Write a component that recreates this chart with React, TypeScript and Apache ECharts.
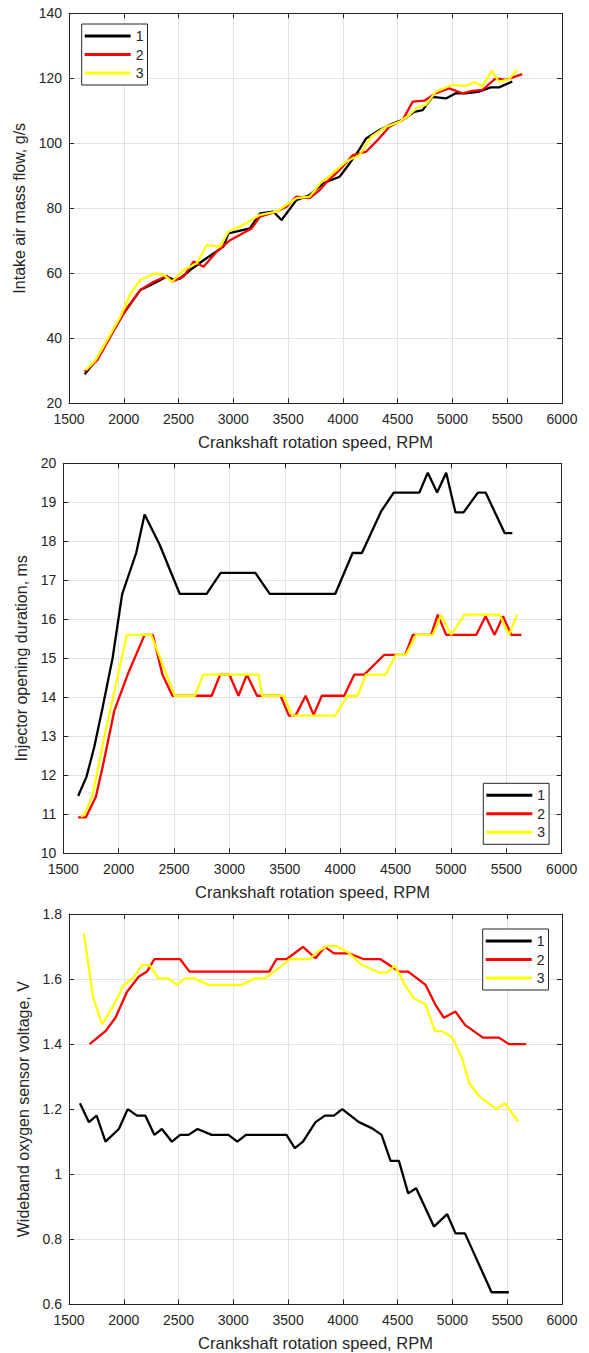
import React, { useEffect, useRef } from "react";
import * as echarts from "echarts";

const FONT = '"Liberation Sans", Arial, Helvetica, sans-serif';
const TXT = "#262626";
const GRIDC = "#e2e2e2";

// X axis (all panels)
const rpmTicks = [1500, 6000, 500];
const xTitle = "Crankshaft rotation speed, RPM";
const seriesNames = ["1", "2", "3"];
const seriesColors = ["#000000", "#ff0000", "#ffff00"];

// Panel 1: intake air mass flow, g/s
const flowRpm1 = [1643, 1758, 1909, 2000, 2152, 2273, 2394, 2455, 2515, 2606, 2728, 2909, 2955, 3152, 3243, 3364, 3440, 3576, 3697, 3819, 3970, 4061, 4137, 4212, 4334, 4455, 4546, 4652, 4728, 4818, 4940, 5031, 5121, 5243, 5349, 5425, 5546];
const flowVal1 = [28.9, 33.8, 42.6, 47.7, 54.9, 56.9, 59.0, 58.0, 58.4, 61.0, 64.0, 68.2, 72.3, 73.8, 78.4, 79.0, 76.4, 82.5, 84.1, 87.7, 89.7, 93.8, 97.4, 101.5, 104.1, 106.1, 107.2, 109.7, 110.2, 114.3, 113.8, 115.4, 115.4, 115.9, 117.2, 117.2, 119.0];
const flowRpm2 = [1643, 1758, 1894, 2016, 2152, 2273, 2394, 2440, 2546, 2637, 2728, 2849, 2970, 3167, 3243, 3394, 3485, 3576, 3697, 3788, 3850, 3970, 4091, 4212, 4303, 4425, 4546, 4637, 4743, 4849, 4970, 5091, 5182, 5273, 5394, 5485, 5637];
const flowVal2 = [29.7, 33.3, 41.5, 48.7, 54.9, 57.4, 59.2, 57.4, 59.0, 63.6, 62.0, 66.7, 70.2, 73.8, 77.4, 79.0, 80.5, 83.6, 83.1, 85.6, 88.0, 91.8, 96.4, 97.4, 100.5, 105.1, 107.2, 112.8, 113.1, 115.4, 116.9, 115.4, 116.1, 116.4, 120.0, 119.5, 121.3];
const flowRpm3 = [1652, 1743, 1849, 1970, 2061, 2152, 2288, 2364, 2440, 2546, 2667, 2758, 2879, 2955, 3091, 3243, 3394, 3576, 3697, 3788, 3909, 4031, 4152, 4258, 4394, 4516, 4606, 4682, 4758, 4849, 5000, 5121, 5197, 5273, 5358, 5425, 5515, 5591];
const flowVal3 = [30.2, 33.3, 39.5, 46.7, 53.8, 58.0, 60.0, 59.5, 57.4, 61.0, 63.1, 68.7, 68.2, 72.8, 74.9, 78.0, 79.0, 83.1, 83.6, 87.5, 90.8, 94.4, 96.4, 102.0, 105.1, 106.6, 108.7, 111.1, 111.8, 115.9, 118.0, 117.6, 118.8, 117.6, 122.3, 119.0, 119.7, 122.6];

// Panel 2: injector opening duration, ms
const injRpm1 = [1634, 1709, 1779, 1855, 1946, 2031, 2158, 2234, 2370, 2552, 2794, 2921, 3234, 3364, 3955, 4112, 4196, 4368, 4483, 4715, 4791, 4875, 4957, 5041, 5114, 5243, 5313, 5485, 5554];
const injVal1 = [11.47, 11.96, 12.72, 13.74, 15.02, 16.64, 17.70, 18.69, 17.91, 16.65, 16.65, 17.19, 17.19, 16.65, 16.65, 17.70, 17.70, 18.76, 19.25, 19.25, 19.76, 19.25, 19.76, 18.74, 18.74, 19.25, 19.25, 18.21, 18.21];
const injRpm2 = [1634, 1703, 1794, 1855, 1961, 2082, 2234, 2309, 2394, 2485, 2840, 2916, 3000, 3082, 3158, 3249, 3461, 3537, 3597, 3688, 3760, 3834, 4036, 4127, 4217, 4398, 4504, 4588, 4655, 4821, 4881, 4957, 5228, 5313, 5394, 5470, 5545, 5636];
const injVal2 = [10.92, 10.92, 11.45, 12.21, 13.66, 14.59, 15.60, 15.60, 14.59, 14.04, 14.04, 14.58, 14.58, 14.04, 14.58, 14.04, 14.04, 13.53, 13.53, 14.04, 13.55, 14.04, 14.04, 14.58, 14.58, 15.09, 15.09, 15.09, 15.60, 15.60, 16.12, 15.60, 15.60, 16.08, 15.60, 16.08, 15.60, 15.60];
const injRpm3 = [1658, 1688, 1764, 1870, 1976, 2073, 2294, 2385, 2506, 2688, 2764, 3264, 3294, 3491, 3567, 3955, 4066, 4157, 4232, 4407, 4504, 4594, 4685, 4836, 4911, 5002, 5123, 5440, 5524, 5597];
const injVal3 = [10.94, 10.98, 11.49, 12.98, 14.34, 15.60, 15.60, 14.93, 14.04, 14.04, 14.58, 14.58, 14.04, 14.04, 13.53, 13.53, 14.04, 14.04, 14.58, 14.58, 15.09, 15.09, 15.60, 15.60, 16.11, 15.60, 16.12, 16.12, 15.60, 16.12];

// Panel 3: wideband oxygen sensor voltage, V
const o2Rpm1 = [1600, 1682, 1752, 1833, 1955, 2036, 2121, 2197, 2279, 2348, 2439, 2515, 2591, 2673, 2803, 2955, 3036, 3115, 3485, 3561, 3636, 3750, 3836, 3918, 3994, 4070, 4146, 4268, 4353, 4435, 4511, 4596, 4669, 4831, 4952, 5028, 5114, 5357, 5515];
const o2Val1 = [1.218, 1.160, 1.180, 1.100, 1.139, 1.200, 1.180, 1.180, 1.121, 1.139, 1.100, 1.121, 1.121, 1.139, 1.121, 1.121, 1.100, 1.121, 1.121, 1.080, 1.100, 1.160, 1.180, 1.180, 1.200, 1.180, 1.160, 1.141, 1.121, 1.041, 1.041, 0.941, 0.957, 0.839, 0.877, 0.818, 0.818, 0.637, 0.637];
const o2Rpm2 = [1688, 1833, 1924, 2030, 2136, 2212, 2279, 2515, 2600, 3327, 3394, 3485, 3636, 3750, 3836, 3918, 4055, 4192, 4344, 4511, 4596, 4755, 4846, 4922, 5028, 5114, 5278, 5424, 5515, 5673];
const o2Val2 = [1.400, 1.440, 1.481, 1.561, 1.607, 1.623, 1.661, 1.661, 1.623, 1.623, 1.661, 1.661, 1.699, 1.664, 1.699, 1.679, 1.679, 1.661, 1.661, 1.623, 1.623, 1.582, 1.520, 1.481, 1.500, 1.459, 1.420, 1.420, 1.400, 1.400];
const o2Rpm3 = [1636, 1721, 1803, 1909, 2000, 2076, 2167, 2236, 2318, 2409, 2485, 2561, 2642, 2773, 3076, 3197, 3288, 3394, 3515, 3697, 3766, 3857, 3933, 4040, 4176, 4329, 4405, 4475, 4566, 4648, 4755, 4840, 4907, 4998, 5083, 5156, 5241, 5400, 5479, 5600];
const o2Val3 = [1.740, 1.541, 1.461, 1.520, 1.582, 1.600, 1.643, 1.643, 1.602, 1.602, 1.582, 1.602, 1.602, 1.582, 1.582, 1.602, 1.602, 1.628, 1.661, 1.661, 1.684, 1.702, 1.702, 1.684, 1.643, 1.620, 1.620, 1.641, 1.582, 1.541, 1.522, 1.440, 1.440, 1.420, 1.361, 1.279, 1.241, 1.200, 1.218, 1.162];

const yTitles = ["Intake air mass flow, g/s", "Injector opening duration, ms", "Wideband oxygen sensor voltage, V"];
const yRanges = [
  [20, 140, 20],
  [10, 20, 1],
  [0.6, 1.8, 0.2],
];

const zip = (xs: number[], ys: number[]) => xs.map((x, i) => [x, ys[i]]);

const panelData = [
  [zip(flowRpm1, flowVal1), zip(flowRpm2, flowVal2), zip(flowRpm3, flowVal3)],
  [zip(injRpm1, injVal1), zip(injRpm2, injVal2), zip(injRpm3, injVal3)],
  [zip(o2Rpm1, o2Val1), zip(o2Rpm2, o2Val2), zip(o2Rpm3, o2Val3)],
];

// layout
const grids = [
  { left: 69, top: 13.3, width: 493, height: 390 },
  { left: 63.3, top: 463.3, width: 498.4, height: 390 },
  { left: 69, top: 914, width: 493, height: 390.3 },
];
const legendPos = [
  { left: 81.7, top: 24 },
  { left: 483.3, top: 783.3 },
  { left: 482.7, top: 929 },
];

function buildOption() {
  const xAxis: any[] = [];
  const yAxis: any[] = [];
  const series: any[] = [];
  const axisLine = { show: true, onZero: false, lineStyle: { color: TXT, width: 1 } };
  const axisTick = { show: true, inside: true, length: 5, lineStyle: { color: TXT, width: 1 } };
  grids.forEach((g, i) => {
    const [ymin, ymax, yint] = yRanges[i];
    xAxis.push({
      type: "value", gridIndex: i, position: "bottom",
      min: rpmTicks[0], max: rpmTicks[1], interval: rpmTicks[2],
      axisLine, axisTick,
      axisLabel: {
        show: true, color: TXT, fontSize: 14, fontFamily: FONT, margin: 9,
        formatter: (v: number) => String(Math.round(v)),
      },
      splitLine: { show: true, lineStyle: { color: GRIDC, width: 1 } },
      name: xTitle, nameLocation: "middle", nameGap: 30,
      nameTextStyle: { color: TXT, fontSize: 16.5, fontFamily: FONT },
    });
    xAxis.push({
      type: "value", gridIndex: i, position: "top",
      min: rpmTicks[0], max: rpmTicks[1], interval: rpmTicks[2],
      axisLine, axisTick, axisLabel: { show: false }, splitLine: { show: false },
    });
    yAxis.push({
      type: "value", gridIndex: i, position: "left",
      min: ymin, max: ymax, interval: yint,
      axisLine, axisTick,
      axisLabel: { show: true, color: TXT, fontSize: 14, fontFamily: FONT, margin: 7 },
      splitLine: { show: true, lineStyle: { color: GRIDC, width: 1 } },
      name: yTitles[i], nameLocation: "middle", nameGap: i === 1 ? 30 : 38, nameRotate: 90,
      nameTextStyle: { color: TXT, fontSize: 16, fontFamily: FONT },
    });
    yAxis.push({
      type: "value", gridIndex: i, position: "right",
      min: ymin, max: ymax, interval: yint,
      axisLine, axisTick, axisLabel: { show: false }, splitLine: { show: false },
    });
    panelData[i].forEach((d, k) => {
      series.push({
        type: "line", name: seriesNames[k], data: d,
        xAxisIndex: 2 * i, yAxisIndex: 2 * i,
        showSymbol: false, symbol: "none",
        lineStyle: { color: seriesColors[k], width: 2.3 },
        itemStyle: { color: seriesColors[k] },
        z: 3 + k,
      });
    });
  });
  const legend = legendPos.map((p) => ({
    data: seriesNames, orient: "vertical", left: p.left, top: p.top,
    icon: "rect", itemWidth: 46, itemHeight: 3, itemGap: 4.5,
    padding: [5, 4, 5, 3],
    borderColor: TXT, borderWidth: 1, backgroundColor: "#ffffff",
    textStyle: { color: TXT, fontSize: 14, fontFamily: FONT },
    selectedMode: false,
  }));
  return {
    animation: false,
    backgroundColor: "#ffffff",
    textStyle: { fontFamily: FONT },
    grid: grids.map((g) => ({ ...g, containLabel: false })),
    xAxis, yAxis, series, legend,
  };
}

export default function App() {
  const ref = useRef<HTMLDivElement>(null);
  useEffect(() => {
    if (!ref.current) return;
    const chart = echarts.init(ref.current, null, { renderer: "svg" });
    chart.setOption(buildOption() as any);
    return () => chart.dispose();
  }, []);
  return (
    <div
      ref={ref}
      style={{ position: "absolute", left: 0, top: 0, width: 589, height: 1353, background: "#fff" }}
    />
  );
}
